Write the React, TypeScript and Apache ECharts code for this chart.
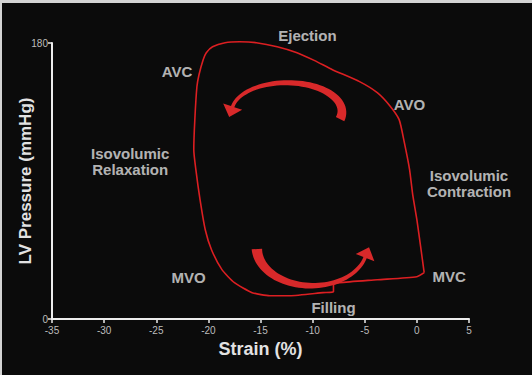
import React, { useEffect, useRef } from "react";
import * as echarts from "echarts";

// Strain–pressure loop, traced counter-clockwise on screen starting at mitral valve closure
const loopStrain = [
  0.7, 0.4, 0.0, -0.4, -0.7, -1.2, -1.7, -2.6, -3.8, -5.5, -8.1, -9.8, -11.5, -13.4,
  -15.4, -17.0, -18.4, -19.6, -20.2, -20.5, -20.9, -21.1, -21.3, -21.4, -21.2, -20.8,
  -20.3, -19.7, -18.7, -17.5, -15.8, -14.1, -12.2, -9.0, -8.0, -8.0, -7.4, -3.8, 0.0, 0.7,
];
const loopPressure = [
  30.2, 45.2, 64.8, 81.1, 97.4, 115.0, 130.0, 139.1, 147.6, 154.8, 162.6, 168.5, 173.7,
  177.6, 180.2, 180.8, 180.2, 177.6, 173.7, 169.1, 159.3, 151.5, 130.0, 110.4, 97.4,
  77.8, 58.2, 45.2, 32.2, 23.7, 17.2, 15.2, 15.2, 17.2, 17.8, 22.4, 23.7, 25.6, 27.6, 30.2,
];

// Phase annotations placed in strain / pressure units
const phaseNames = [
  "Ejection",
  "AVC",
  "AVO",
  "Isovolumic\nRelaxation",
  "Isovolumic\nContraction",
  "MVO",
  "MVC",
  "Filling",
];
const phaseStrain = [-10.5, -23.0, -0.7, -27.5, 5.0, -21.9, 3.1, -8.0];
const phasePressure = [184.8, 161.3, 139.8, 102.6, 88.3, 26.9, 27.6, 7.4];

// Axis ranges
const strainTicks = { min: -35, max: 5, step: 5 };
const pressureTicks = { min: 0, max: 180, step: 180 };

// Direction arrows: centre (strain, pressure), radii, sweep in degrees, widths, head size
const cycleArrows = [
  [-12.47, 135.2, 5.28, 18.9, -15, 170, 9.5, 3.5, 10, 11],
  [-10.07, 46.5, 5.28, 24.8, 182, 345, 10.5, 3.5, 10, 11],
];

const TEXT = "#e2e2e2";
const FONT = "'Liberation Sans', Arial, sans-serif";

function renderArrow(_params: any, api: any) {
  const c = api.coord([api.value(0), api.value(1)]);
  const s = api.size([api.value(2), api.value(3)]);
  const rx = s[0];
  const ry = s[1];
  const a0 = (api.value(4) * Math.PI) / 180;
  const a1 = (api.value(5) * Math.PI) / 180;
  const w0 = api.value(6);
  const w1 = api.value(7);
  const hw = api.value(8);
  const hl = api.value(9);
  const dir = a1 > a0 ? 1 : -1;
  const n = 48;
  const left: number[][] = [];
  const right: number[][] = [];
  let end = [0, 0];
  let tan = [0, 0];
  let nor = [0, 0];
  for (let i = 0; i <= n; i++) {
    const t = i / n;
    const a = a0 + (a1 - a0) * t;
    const p = [c[0] + rx * Math.cos(a), c[1] - ry * Math.sin(a)];
    let d = [-rx * Math.sin(a) * dir, -ry * Math.cos(a) * dir];
    const len = Math.hypot(d[0], d[1]) || 1;
    d = [d[0] / len, d[1] / len];
    const nm = [-d[1], d[0]];
    // taper quickly from the tail, then level off toward the head
    const w = (w1 + (w0 - w1) * Math.pow(1 - t, 1.6)) / 2;
    left.push([p[0] + nm[0] * w, p[1] + nm[1] * w]);
    right.push([p[0] - nm[0] * w, p[1] - nm[1] * w]);
    end = p;
    tan = d;
    nor = nm;
  }
  const b1 = [end[0] + nor[0] * hw, end[1] + nor[1] * hw];
  const b2 = [end[0] - nor[0] * hw, end[1] - nor[1] * hw];
  const tip = [end[0] + tan[0] * hl, end[1] + tan[1] * hl];
  const points = [...left, b1, tip, b2, ...right.reverse()];
  return {
    type: "polygon",
    shape: { points },
    style: { fill: "#d8292a" },
  };
}

export default function App() {
  const ref = useRef<HTMLDivElement>(null);

  useEffect(() => {
    if (!ref.current) return;
    const chart = echarts.init(ref.current, null, { renderer: "svg" });

    const loopData = loopStrain.map((x, i) => [x, loopPressure[i]]);
    const labelData = phaseNames.map((name, i) => ({
      name,
      value: [phaseStrain[i], phasePressure[i]],
    }));

    chart.setOption({
      animation: false,
      backgroundColor: "#0b0b0b",
      textStyle: { fontFamily: FONT },
      grid: {
        left: 52,
        right: 63,
        top: 43,
        bottom: 56,
        containLabel: false,
        outerBoundsMode: "none",
      },
      graphic: [
        { type: "rect", left: 0, top: 0, shape: { x: 0, y: 0, width: 532, height: 3 }, style: { fill: "#d4d4d4" }, silent: true },
        { type: "rect", left: 0, top: 0, shape: { x: 0, y: 0, width: 2, height: 375 }, style: { fill: "#d4d4d4" }, silent: true },
      ],
      xAxis: {
        type: "value",
        min: strainTicks.min,
        max: strainTicks.max,
        interval: strainTicks.step,
        name: "Strain (%)",
        nameLocation: "middle",
        nameGap: 20,
        nameTextStyle: { color: TEXT, fontSize: 18, fontWeight: "bold", fontFamily: FONT },
        axisLine: { show: true, onZero: false, lineStyle: { color: "#ededed", width: 2 } },
        axisTick: { show: true, length: 4, lineStyle: { color: "#ededed", width: 1.5 } },
        axisLabel: { color: "#bdbdbd", fontSize: 10, margin: 6, fontFamily: FONT },
        splitLine: { show: false },
      },
      yAxis: {
        type: "value",
        min: pressureTicks.min,
        max: pressureTicks.max,
        interval: pressureTicks.step,
        name: "LV Pressure (mmHg)",
        nameLocation: "middle",
        nameGap: 18,
        nameMoveOverlap: false,
        nameTextStyle: { color: TEXT, fontSize: 17, fontWeight: "bold", fontFamily: FONT },
        axisLine: { show: true, onZero: false, lineStyle: { color: "#ededed", width: 2 } },
        axisTick: { show: true, length: 4, lineStyle: { color: "#ededed", width: 1.5 } },
        axisLabel: { color: "#bdbdbd", fontSize: 10, margin: 4, fontFamily: FONT },
        splitLine: { show: false },
      },
      series: [
        {
          type: "line",
          data: loopData,
          smooth: 0.2,
          showSymbol: false,
          symbol: "none",
          clip: false,
          lineStyle: { color: "#dc1f22", width: 1.6 },
          silent: true,
          z: 3,
        },
        {
          type: "custom",
          coordinateSystem: "cartesian2d",
          data: cycleArrows,
          renderItem: renderArrow,
          clip: false,
          silent: true,
          encode: { x: 0, y: 1 },
          z: 4,
        },
        {
          type: "scatter",
          data: labelData,
          symbolSize: 1,
          itemStyle: { color: "rgba(0,0,0,0)" },
          clip: false,
          silent: true,
          label: {
            show: true,
            position: "inside",
            formatter: "{b}",
            color: TEXT,
            fontSize: 15,
            fontWeight: "bold",
            fontFamily: FONT,
            lineHeight: 16,
            align: "center",
            verticalAlign: "middle",
          },
          z: 5,
        },
      ],
    });

    return () => chart.dispose();
  }, []);

  return (
    <div
      ref={ref}
      style={{ position: "fixed", left: 0, top: 0, width: 532, height: 375 }}
    />
  );
}
